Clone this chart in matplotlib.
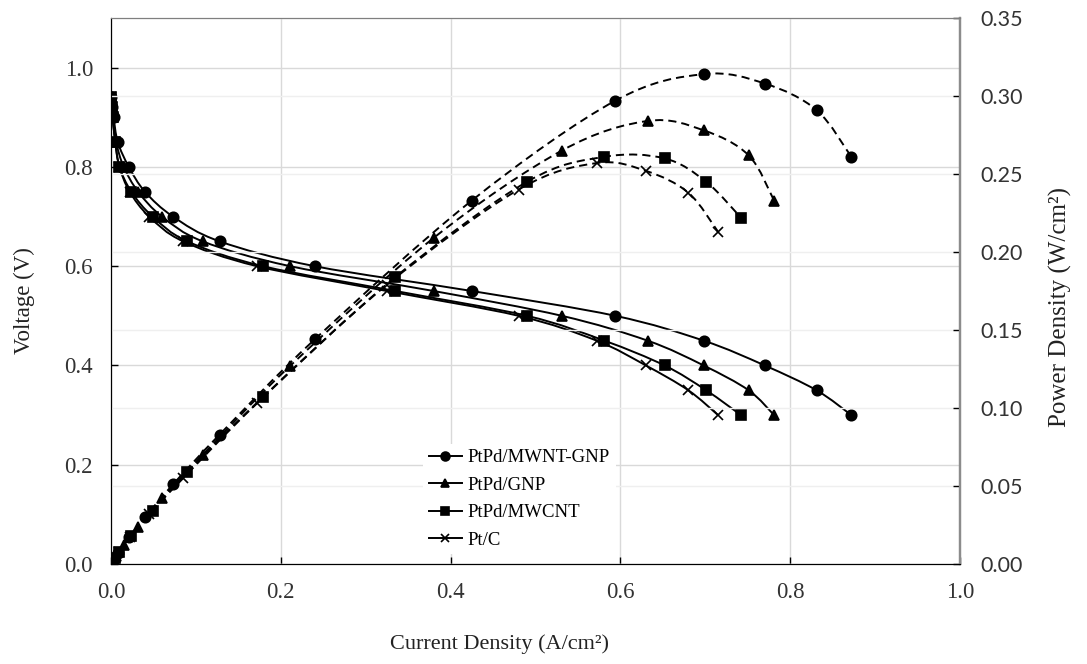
import matplotlib
matplotlib.use('Agg')
import matplotlib.pyplot as plt
from matplotlib.path import Path
from matplotlib.patches import PathPatch
from matplotlib.lines import Line2D
from matplotlib.ticker import FormatStrFormatter

# ---- data ----
voltage = [0.94, 0.92, 0.90, 0.85, 0.80, 0.75, 0.70, 0.65, 0.60, 0.55, 0.50, 0.45, 0.40, 0.35, 0.30]

cur_mwnt_gnp = [0.0, 0.001, 0.003, 0.008, 0.021, 0.040, 0.073, 0.128, 0.240, 0.425, 0.594, 0.698, 0.770, 0.831, 0.872]
pow_mwnt_gnp = [0.000, 0.001, 0.003, 0.007, 0.017, 0.030, 0.051, 0.083, 0.144, 0.233, 0.297, 0.314, 0.308, 0.291, 0.261]

cur_gnp = [0.0, 0.001, 0.002, 0.006, 0.015, 0.032, 0.060, 0.108, 0.211, 0.380, 0.531, 0.632, 0.698, 0.751, 0.781]
pow_gnp = [0.000, 0.001, 0.002, 0.005, 0.012, 0.024, 0.042, 0.070, 0.127, 0.209, 0.265, 0.284, 0.278, 0.262, 0.233]

cur_mwcnt = [0.0, 0.001, 0.002, 0.005, 0.010, 0.024, 0.049, 0.090, 0.179, 0.335, 0.490, 0.581, 0.652, 0.701, 0.742]
pow_mwcnt = [0.000, 0.001, 0.002, 0.004, 0.008, 0.018, 0.034, 0.059, 0.107, 0.184, 0.245, 0.261, 0.260, 0.245, 0.222]

cur_ptc = [0.0, 0.001, 0.002, 0.005, 0.010, 0.022, 0.045, 0.085, 0.172, 0.325, 0.480, 0.572, 0.630, 0.680, 0.715]
pow_ptc = [0.000, 0.001, 0.002, 0.004, 0.008, 0.017, 0.032, 0.055, 0.103, 0.179, 0.240, 0.257, 0.252, 0.238, 0.213]

labels = ['PtPd/MWNT-GNP', 'PtPd/GNP', 'PtPd/MWCNT', 'Pt/C']
markers = ['o', '^', 's', 'x']
msizes = [7.5, 7.5, 7, 7]

currents = [cur_mwnt_gnp, cur_gnp, cur_mwcnt, cur_ptc]
powers = [pow_mwnt_gnp, pow_gnp, pow_mwcnt, pow_ptc]

x_ticks = [0.0, 0.2, 0.4, 0.6, 0.8, 1.0]
v_ticks = [0.0, 0.2, 0.4, 0.6, 0.8, 1.0]
p_ticks = [0.0, 0.05, 0.10, 0.15, 0.20, 0.25, 0.30, 0.35]


def smooth_path(xs, ys):
    # Excel-like smoothed scatter line: Catmull-Rom converted to cubic Bezier
    pts = list(zip(xs, ys))
    n = len(pts)
    verts = [pts[0]]
    codes = [Path.MOVETO]
    for i in range(n - 1):
        p0 = pts[max(i - 1, 0)]
        p1 = pts[i]
        p2 = pts[i + 1]
        p3 = pts[min(i + 2, n - 1)]
        c1 = (p1[0] + (p2[0] - p0[0]) / 6, p1[1] + (p2[1] - p0[1]) / 6)
        c2 = (p2[0] - (p3[0] - p1[0]) / 6, p2[1] - (p3[1] - p1[1]) / 6)
        verts += [c1, c2, p2]
        codes += [Path.CURVE4] * 3
    return Path(verts, codes)


serif = 'Liberation Serif'
fig = plt.figure(figsize=(10.87, 6.64), dpi=100)
ax = fig.add_axes([111 / 1087, 1 - 564 / 664, 849 / 1087, 546 / 664])
ax2 = ax.twinx()

lw = 1.4
for cur, pw, mk, ms in zip(currents, powers, markers, msizes):
    ax.add_patch(PathPatch(smooth_path(cur, voltage), fill=False, ec='black', lw=lw, zorder=3))
    ax.plot(cur, voltage, linestyle='none', marker=mk, ms=ms, color='black', mew=1.2, zorder=4)
    ax2.add_patch(PathPatch(smooth_path(cur, pw), fill=False, ec='black', lw=lw,
                            linestyle=(0, (4.2, 2.6)), zorder=3))
    ax2.plot(cur, pw, linestyle='none', marker=mk, ms=ms, color='black', mew=1.2, zorder=4)

ax.set_xlim(0, 1.0)
ax.set_ylim(0, 1.1)
ax2.set_ylim(0, 0.35)

ax.set_xticks(x_ticks)
ax.set_yticks(v_ticks)
ax2.set_yticks(p_ticks)
ax.xaxis.set_major_formatter(FormatStrFormatter('%.1f'))
ax.yaxis.set_major_formatter(FormatStrFormatter('%.1f'))
ax2.yaxis.set_major_formatter(FormatStrFormatter('%.2f'))

ax.grid(True, color='#d9d9d9', lw=1.0, zorder=0)
ax.set_axisbelow(True)
ax2.grid(True, axis='y', color='#efefef', lw=1.0)
ax2.set_axisbelow(True)

ax.tick_params(axis='both', direction='in', length=5, width=1, pad=13,
               labelsize=16.5, labelcolor='#333333')
ax2.tick_params(axis='y', direction='in', length=5, width=1, pad=15,
                labelsize=15.5, labelcolor='#333333')
for t in ax.get_xticklabels() + ax.get_yticklabels():
    t.set_fontfamily(serif)
for t in ax2.get_yticklabels():
    t.set_fontfamily('Lato')

for a in (ax, ax2):
    a.spines['left'].set_color('black')
    a.spines['bottom'].set_color('black')
    a.spines['top'].set_color('#7f7f7f')
    a.spines['right'].set_color('#8c8c8c')
    a.spines['right'].set_linewidth(1.6)

ax.set_xlabel('Current Density (A/cm²)', fontsize=16, family=serif, color='#222222')
ax.set_ylabel('Voltage (V)', fontsize=16.5, family=serif, color='#222222')
ax2.set_ylabel('Power Density (W/cm²)', fontsize=18, family=serif, color='#222222')
ax.xaxis.set_label_coords(0.458, -0.128)
ax.yaxis.set_label_coords(-0.09, 0.483)
ax2.yaxis.set_label_coords(1.105, 0.47)

handles = [Line2D([], [], color='black', lw=lw, marker=mk, ms=ms * 0.85, mew=1.2)
           for mk, ms in zip(markers, msizes)]
leg = ax2.legend(handles, labels, loc='center', bbox_to_anchor=(0.481, 0.119),
                 frameon=True, fancybox=False, edgecolor='none', facecolor='white',
                 framealpha=1, handlelength=1.8, handletextpad=0.3, labelspacing=0.55,
                 borderpad=0.3, prop={'family': serif, 'size': 13.5})
leg.set_zorder(10)

fig.savefig('out.png', dpi=100)
